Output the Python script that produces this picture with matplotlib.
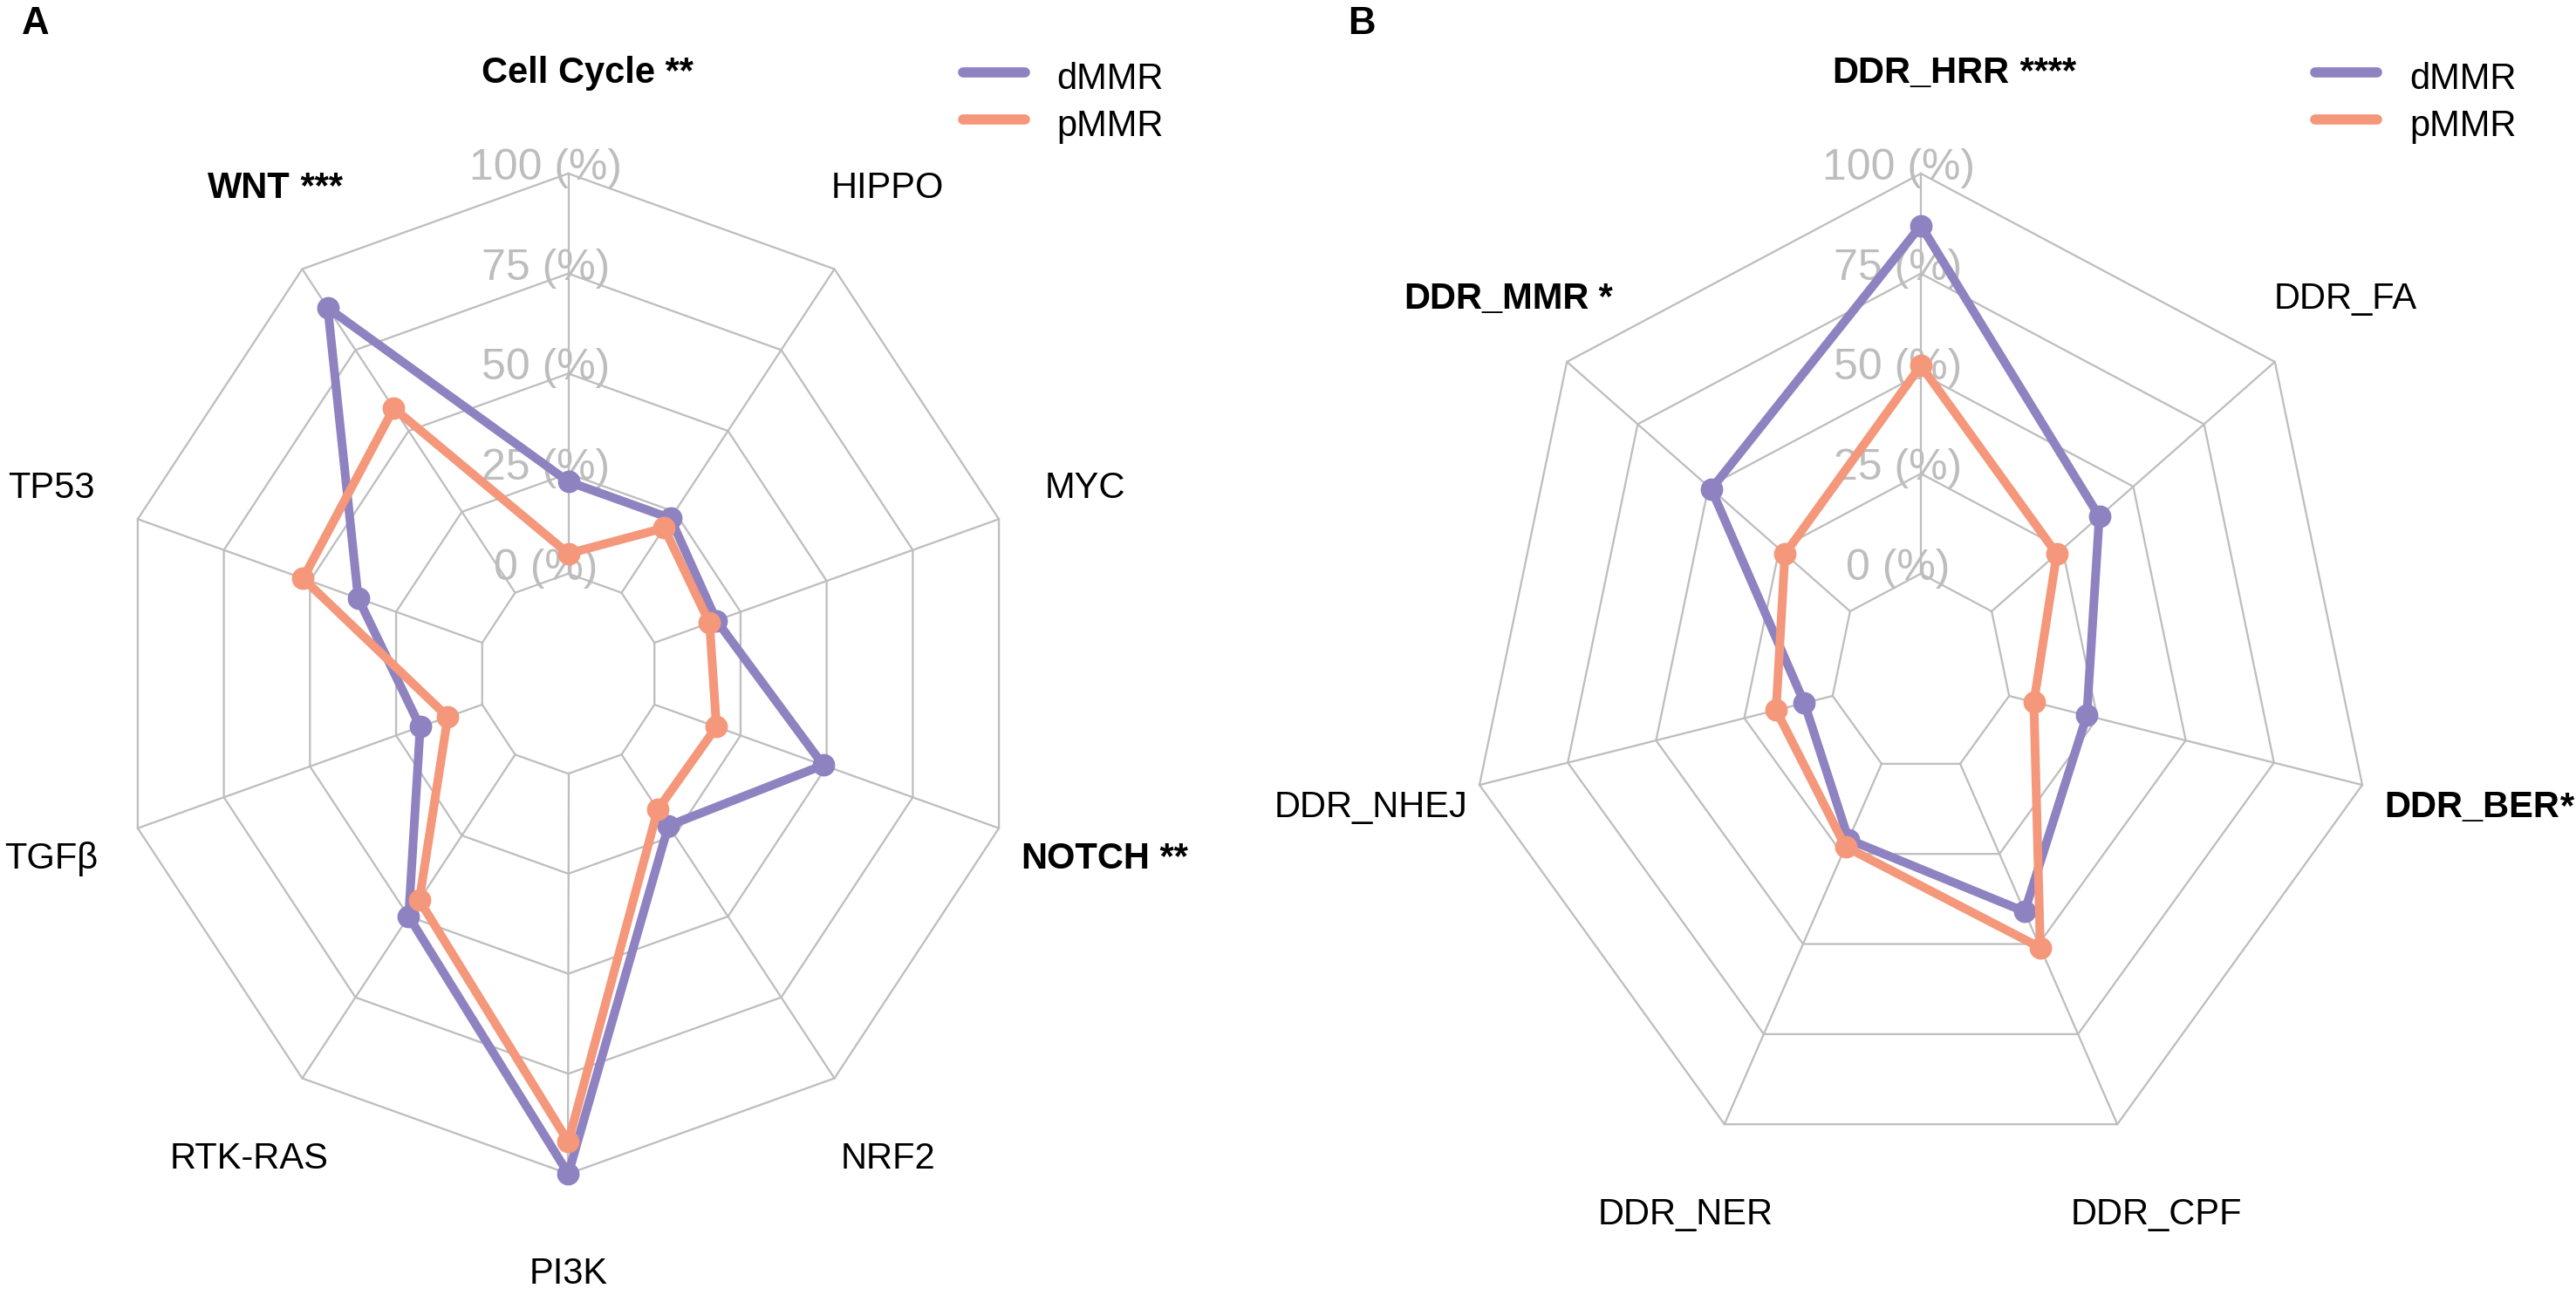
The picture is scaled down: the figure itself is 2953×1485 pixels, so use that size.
import numpy as np
import matplotlib
matplotlib.use("Agg")
import matplotlib.pyplot as plt
from matplotlib.lines import Line2D

plt.rcParams['font.family'] = ['Liberation Sans', 'DejaVu Sans']

# ---------------- data ----------------
pathways_A = ["Cell Cycle", "WNT", "TP53", "TGFβ", "RTK-RAS", "PI3K",
              "NRF2", "NOTCH", "MYC", "HIPPO"]
signif_A = [" **", " ***", "", "", "", "", "", " **", "", ""]
dmmr_A = [23, 88, 36, 18, 50, 100, 22, 49, 18, 23]
pmmr_A = [5, 57, 52, 10, 45, 92, 17, 18, 16, 20]

pathways_B = ["DDR_HRR", "DDR_MMR", "DDR_NHEJ", "DDR_NER", "DDR_CPF",
              "DDR_BER", "DDR_FA"]
signif_B = [" ****", " *", "", "", "", "*", ""]
dmmr_B = [87, 49, 8, 21, 41, 22, 38]
pmmr_B = [52, 23, 16, 23, 51, 7, 23]

grid_ticks = [0, 25, 50, 75, 100]
grid_labels = ["0 (%)", "25 (%)", "50 (%)", "75 (%)", "100 (%)"]
groups = ["dMMR", "pMMR"]

# ---------------- style ----------------
PURPLE = "#8F82C1"
ORANGE = "#F4977A"
GRID = "#BEBEBE"
LABEL_GREY = "#BDBDBD"
FS = 10

W, H, DPI = 2953, 1485, 300
RX, RY = 519.0, 573.5          # pixel size of unit radius
CY = 772.5                     # pixel row of the centre
CX_A, CX_B = 651.5, 2202.0

# small horizontal nudges (in axis units) of a few axis labels
label_nudge = {"DDR_NHEJ": -0.045, "DDR_BER": 0.048}

fig = plt.figure(figsize=(W / DPI, H / DPI), dpi=DPI)
fig.patch.set_facecolor("white")


def value_to_radius(v):
    # fmsb-like radial scale: seg = 4, centre offset of one segment
    return (1.0 + np.asarray(v, dtype=float) / 25.0) / 5.0


def make_axes(cx):
    xl = 1.25
    ax = fig.add_axes([(cx - xl * RX) / W, 0, 2 * xl * RX / W, 1])
    ax.set_xlim(-xl, xl)
    ax.set_ylim(-(H - CY) / RY, CY / RY)
    ax.set_axis_off()
    return ax


def legend(cx):
    cols = [PURPLE, ORANGE]
    line_y = [82.7, 136.7]
    for col, name, y in zip(cols, groups, line_y):
        fig.add_artist(Line2D([(cx + 452) / W, (cx + 523) / W],
                              [1 - y / H, 1 - y / H],
                              transform=fig.transFigure, color=col, lw=2.8,
                              solid_capstyle="round"))
        fig.text((cx + 560) / W, 1 - (y + 19) / H, name, ha="left",
                 va="baseline", fontsize=FS, color="black")


def radar(ax, names, sigs, d_vals, p_vals):
    n = len(names)
    theta = np.deg2rad(90 + 360.0 * np.arange(n) / n)
    ct, st = np.cos(theta), np.sin(theta)
    # grid polygons
    for t in grid_ticks:
        r = value_to_radius(t)
        ax.plot(np.r_[r * ct, r * ct[0]], np.r_[r * st, r * st[0]],
                color=GRID, lw=0.55, zorder=1, clip_on=False)
    r0, r1 = value_to_radius(grid_ticks[0]), value_to_radius(grid_ticks[-1])
    for c, s in zip(ct, st):
        ax.plot([r0 * c, r1 * c], [r0 * s, r1 * s], color=GRID, lw=0.55,
                zorder=1, clip_on=False)
    # grid labels
    for t, lab in zip(grid_ticks, grid_labels):
        ax.text(-0.05, value_to_radius(t) - 0.012, lab, ha="center",
                va="baseline", color=LABEL_GREY, fontsize=12, zorder=2)
    # series
    for vals, col in ((d_vals, PURPLE), (p_vals, ORANGE)):
        r = value_to_radius(vals)
        x, y = r * ct, r * st
        ax.plot(np.r_[x, x[0]], np.r_[y, y[0]], color=col, lw=2.4,
                solid_joinstyle="round", zorder=3, clip_on=False)
        ax.plot(x, y, "o", ms=5.2, color=col, mec=col, zorder=3,
                clip_on=False)
    # axis labels
    for name, sig, c, s in zip(names, sigs, ct, st):
        bold = "bold" if sig else "normal"
        t = ax.text(1.2 * c + label_nudge.get(name, 0.0), 1.2 * s, name,
                    ha="center", va="center", fontsize=FS, fontweight=bold,
                    color="black")
        if sig:
            ax.annotate(sig, xy=(1, 0), xycoords=t, ha="left", va="bottom",
                        fontsize=FS, fontweight="bold", color="black")


axA = make_axes(CX_A)
radar(axA, pathways_A, signif_A, dmmr_A, pmmr_A)
legend(CX_A)
axB = make_axes(CX_B)
radar(axB, pathways_B, signif_B, dmmr_B, pmmr_B)
legend(CX_B)

fig.text(25 / W, 1 - 39 / H, "A", ha="left", va="baseline", fontsize=10.5,
         fontweight="bold")
fig.text(1545 / W, 1 - 39 / H, "B", ha="left", va="baseline", fontsize=10.5,
         fontweight="bold")

fig.savefig("out.png", dpi=DPI, facecolor="white")
